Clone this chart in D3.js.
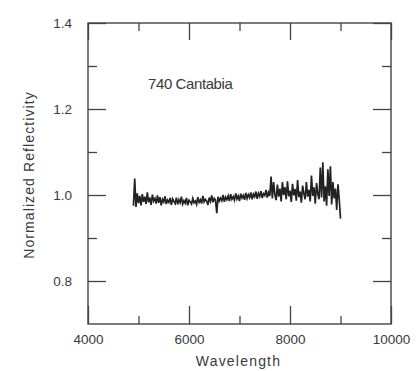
<!DOCTYPE html>
<html><head><meta charset="utf-8">
<script src="https://cdn.jsdelivr.net/npm/d3@7"></script>
<style>
body{margin:0;background:#fff;}
svg{display:block;}
text{font-family:"Liberation Sans",Arial,sans-serif;fill:#3a3a3a;}
</style></head>
<body><svg id="c" width="418" height="371"></svg>
<script>
const title = "740 Cantabia";
const xLabel = "Wavelength";
const yLabel = "Normalized Reflectivity";
const xMajor = [4000, 6000, 8000, 10000];
const xMinor = [5000, 7000, 9000];
const yMajor = [0.8, 1.0, 1.2, 1.4];
const yMinor = [0.9, 1.1, 1.3];
const yTickLabels = ["0.8", "1.0", "1.2", "1.4"];

const wavelength = [
4900,4925,4950,4975,5000,5025,5050,5075,5100,5125,
5150,5175,5200,5225,5250,5275,5300,5325,5350,5375,
5400,5425,5450,5475,5500,5525,5550,5575,5600,5625,
5650,5675,5700,5725,5750,5775,5800,5825,5850,5875,
5900,5925,5950,5975,6000,6025,6050,6075,6100,6125,
6150,6175,6200,6225,6250,6275,6300,6325,6350,6375,
6400,6425,6450,6475,6500,6525,6550,6575,6600,6625,
6650,6675,6700,6725,6750,6775,6800,6825,6850,6875,
6900,6925,6950,6975,7000,7025,7050,7075,7100,7125,
7150,7175,7200,7225,7250,7275,7300,7325,7350,7375,
7400,7425,7450,7475,7500,7525,7550,7575,7600,7625,
7650,7675,7700,7725,7750,7775,7800,7825,7850,7875,
7900,7925,7950,7975,8000,8025,8050,8075,8100,8125,
8150,8175,8200,8225,8250,8275,8300,8325,8350,8375,
8400,8425,8450,8475,8500,8525,8550,8575,8600,8625,
8650,8675,8700,8725,8750,8775,8800,8825,8850,8875,
8900,8925,8950,8975,9000];

const reflectivity = [
0.975,1.038,0.972,1.004,0.981,0.998,0.976,1.002,0.984,0.996,
0.979,1.006,0.983,0.994,0.977,1.001,0.986,0.992,0.980,0.999,
0.982,0.995,0.976,0.990,0.984,0.997,0.979,0.988,0.983,0.993,
0.977,0.991,0.985,0.980,0.994,0.978,0.989,0.982,0.996,0.979,
0.987,0.981,0.993,0.976,0.988,0.984,0.979,0.992,0.982,0.986,
0.978,0.995,0.983,0.989,0.980,0.998,0.984,0.990,0.986,0.977,
0.994,0.985,0.999,0.983,0.992,0.988,0.958,0.996,0.986,0.993,
0.987,1.000,0.984,0.995,0.989,0.998,0.986,1.002,0.990,0.996,
0.988,1.004,0.991,0.998,0.986,1.003,0.993,0.999,0.989,1.005,
0.992,1.001,0.994,1.006,0.990,1.002,0.996,1.008,0.991,1.004,
0.997,1.009,0.993,1.003,0.999,1.012,0.994,1.006,0.998,1.043,
0.992,1.030,1.001,0.988,1.024,0.996,1.015,0.985,1.030,1.000,
1.018,0.990,1.032,0.997,1.010,0.984,1.026,0.999,1.014,0.987,
1.035,0.995,1.008,0.982,1.022,1.003,0.990,1.030,0.996,1.012,
0.985,1.045,0.998,1.018,0.980,1.028,1.002,0.990,1.064,0.994,
1.076,0.985,1.020,0.975,1.060,0.998,1.067,0.978,1.030,0.992,
1.015,0.965,1.025,0.990,0.945];

const svg = d3.select("#c");
const L = 88, R = 391, T = 23, B = 324;
const x = d3.scaleLinear().domain([4000, 10000]).range([L, R]);
const y = d3.scaleLinear().domain([0.7, 1.4]).range([B, T]);
const ink = "#444";
const font = "Liberation Sans, Arial, sans-serif";

// frame
svg.append("rect").attr("x", L).attr("y", T).attr("width", R - L).attr("height", B - T)
  .attr("fill", "none").attr("stroke", ink).attr("stroke-width", 1.4);

function styleAxis(g){ g.select(".domain").remove(); g.selectAll("line").attr("stroke", ink).attr("stroke-width", 1.3); }

// bottom
svg.append("g").attr("transform", `translate(0,${B})`)
  .call(d3.axisBottom(x).tickValues(xMajor).tickSize(-18).tickPadding(10).tickFormat(d3.format("d")))
  .call(styleAxis)
  .call(g => g.selectAll("text").attr("font-size", 13.5).attr("fill", "#3a3a3a").attr("font-family", font));
svg.append("g").attr("transform", `translate(0,${B})`)
  .call(d3.axisBottom(x).tickValues(xMinor).tickSize(-8).tickFormat(""))
  .call(styleAxis);
// top
svg.append("g").attr("transform", `translate(0,${T})`)
  .call(d3.axisTop(x).tickValues(xMajor).tickSize(-17).tickFormat(""))
  .call(styleAxis);
svg.append("g").attr("transform", `translate(0,${T})`)
  .call(d3.axisTop(x).tickValues(xMinor).tickSize(-8).tickFormat(""))
  .call(styleAxis);
// left
svg.append("g").attr("transform", `translate(${L},0)`)
  .call(d3.axisLeft(y).tickValues(yMajor).tickSize(-18).tickPadding(16).tickFormat((d, i) => yTickLabels[i]))
  .call(styleAxis)
  .call(g => g.selectAll("text").attr("font-size", 13.5).attr("fill", "#3a3a3a").attr("font-family", font));
svg.append("g").attr("transform", `translate(${L},0)`)
  .call(d3.axisLeft(y).tickValues(yMinor).tickSize(-9).tickFormat(""))
  .call(styleAxis);
// right
svg.append("g").attr("transform", `translate(${R},0)`)
  .call(d3.axisRight(y).tickValues(yMajor).tickSize(-18).tickFormat(""))
  .call(styleAxis);
svg.append("g").attr("transform", `translate(${R},0)`)
  .call(d3.axisRight(y).tickValues(yMinor).tickSize(-9).tickFormat(""))
  .call(styleAxis);

// spectrum
const pts = wavelength.map((w, i) => [w, reflectivity[i]]);
svg.append("path").datum(pts)
  .attr("fill", "none").attr("stroke", "#222").attr("stroke-width", 1.7)
  .attr("stroke-linejoin", "miter")
  .attr("d", d3.line().x(d => x(d[0])).y(d => y(d[1])));

// title
svg.append("text").attr("x", 148).attr("y", 89).attr("font-size", 15).attr("letter-spacing", -0.4).text(title);

// axis labels
svg.append("text").attr("x", (L + R) / 2 - 1).attr("y", 366).attr("text-anchor", "middle")
  .attr("font-size", 14).attr("letter-spacing", 1.2).text(xLabel);
svg.append("text").attr("transform", `translate(34,${175}) rotate(-90)`).attr("text-anchor", "middle")
  .attr("font-size", 14).attr("letter-spacing", 1.1).text(yLabel);
</script></body></html>
